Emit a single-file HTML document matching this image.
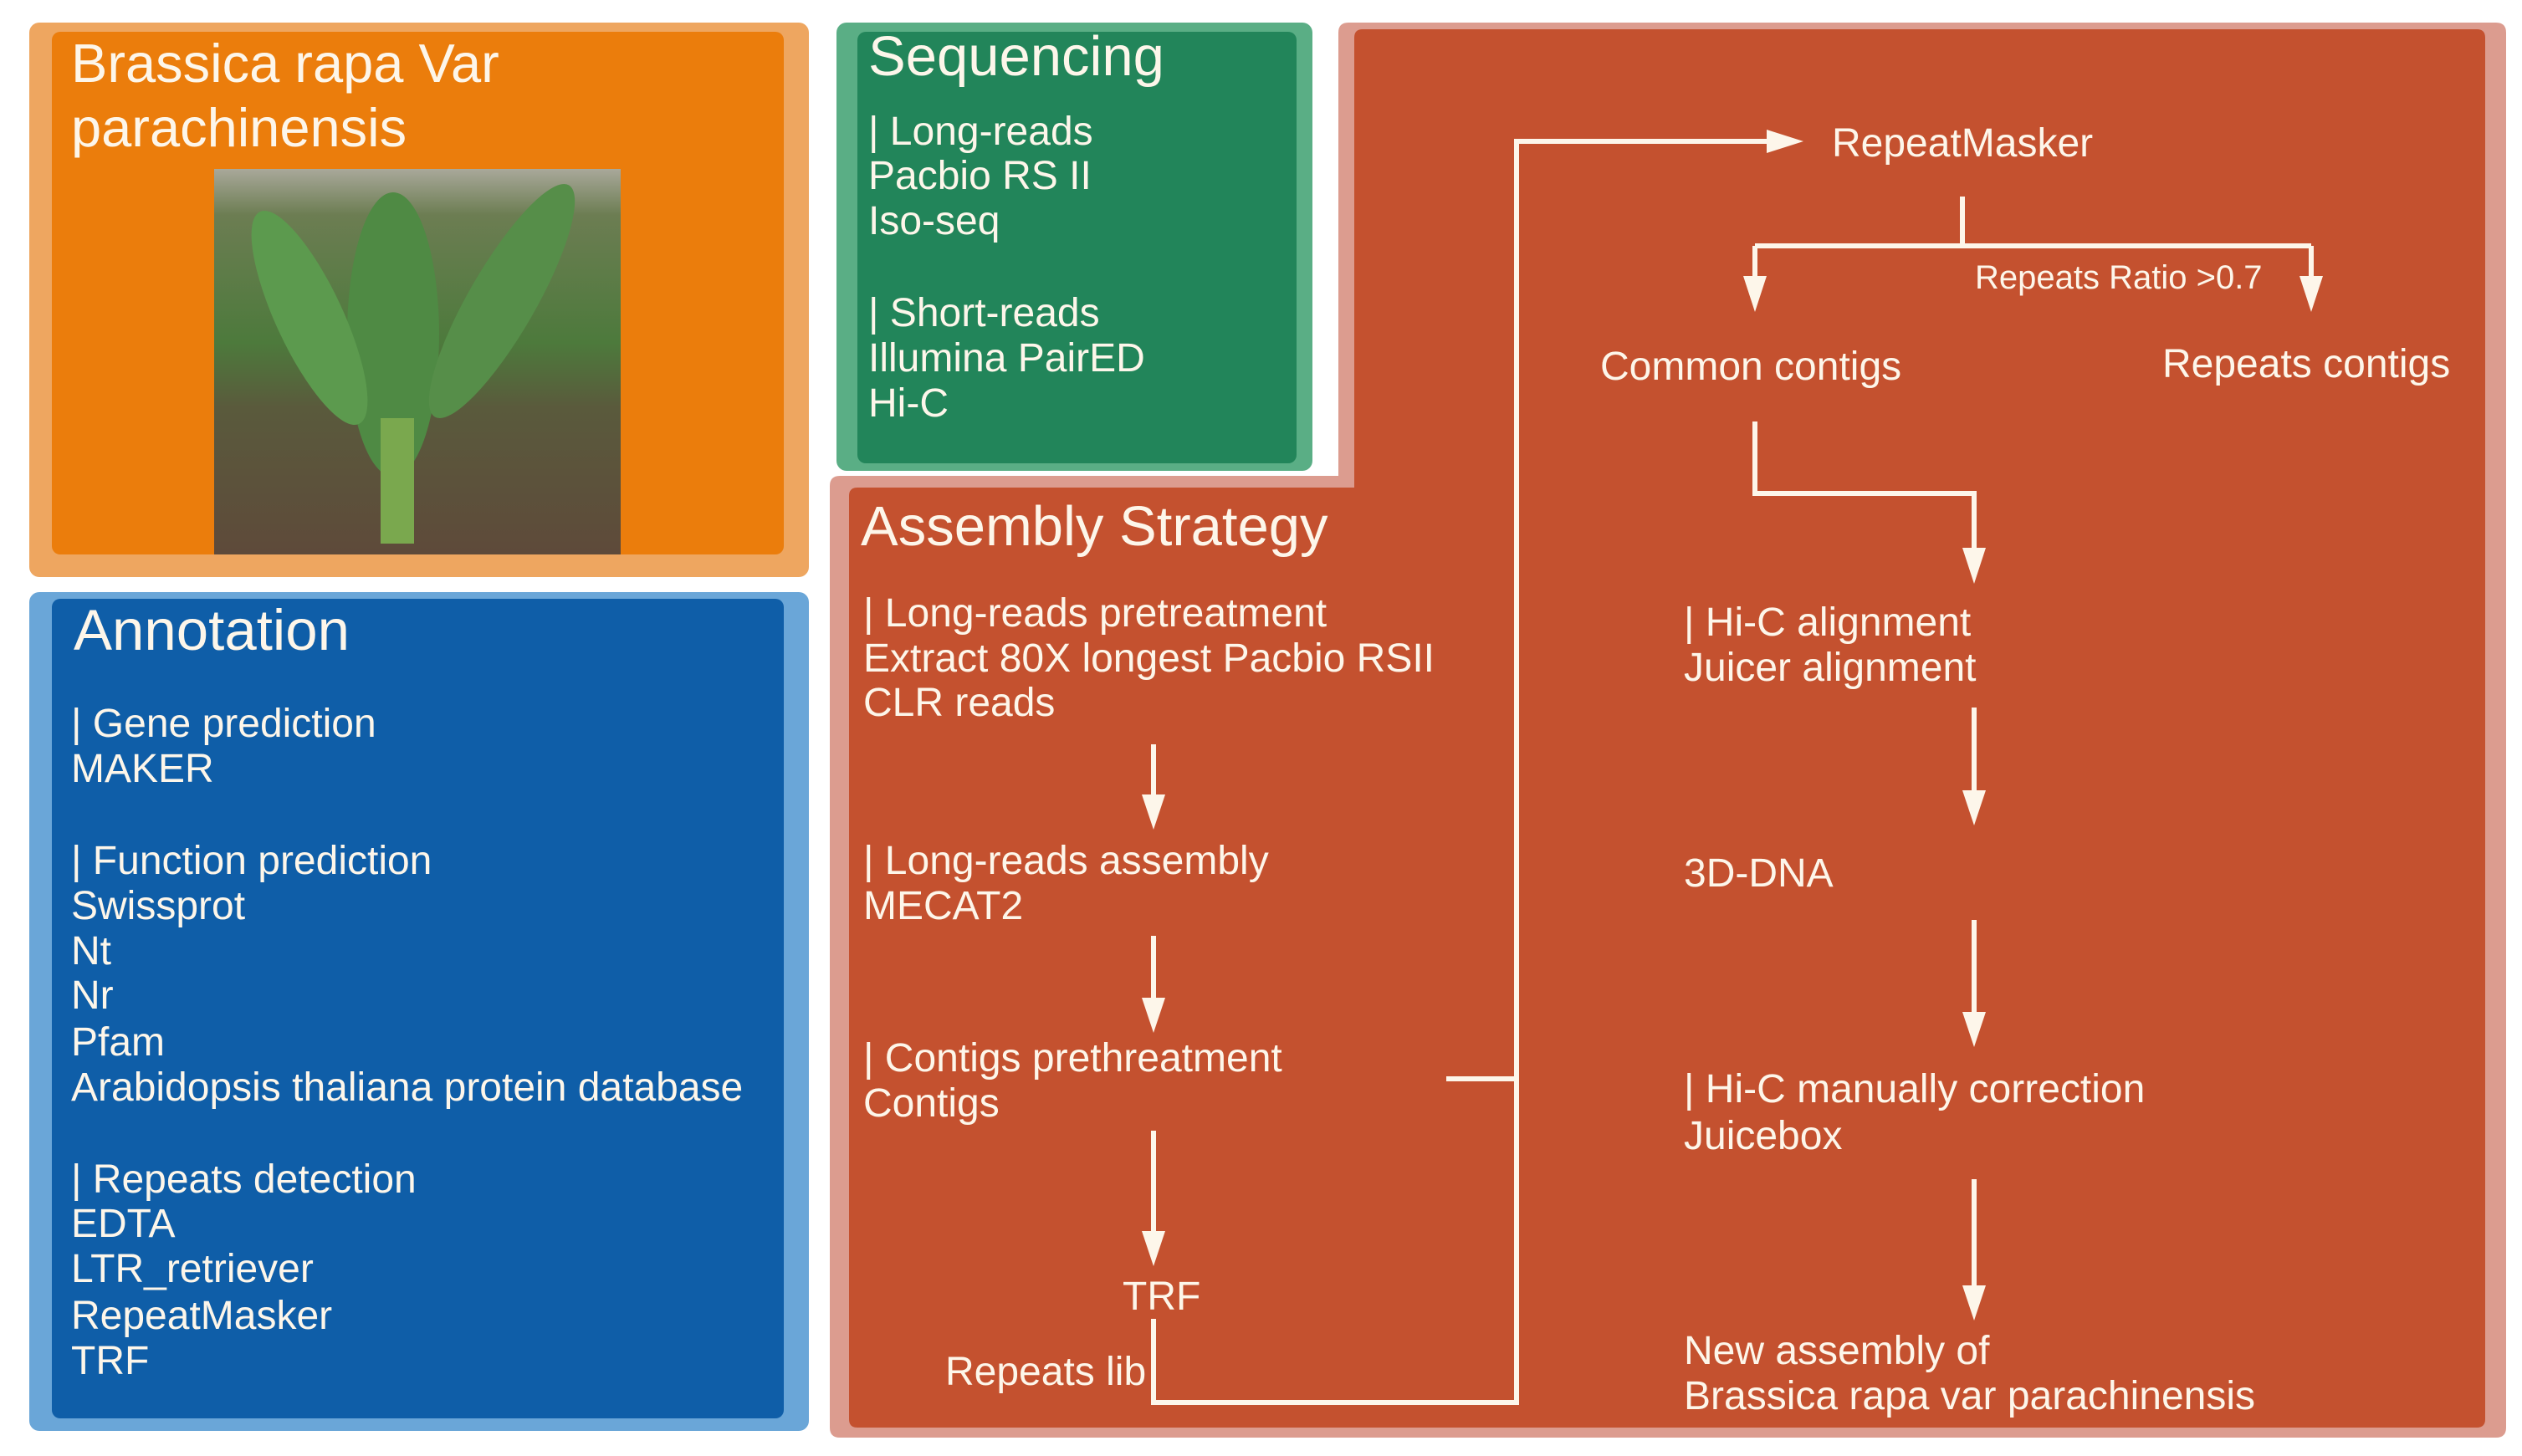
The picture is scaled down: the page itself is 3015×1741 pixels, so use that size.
<!DOCTYPE html>
<html><head><meta charset="utf-8"><style>
html,body{margin:0;padding:0;background:#fff;}
svg{display:block}
text{font-family:"Liberation Sans",sans-serif;fill:#fdf6ea;}
</style></head><body>
<svg width="3015" height="1741" viewBox="0 0 3015 1741" xmlns="http://www.w3.org/2000/svg">
<defs>
<linearGradient id="ph" x1="0" y1="0" x2="0" y2="1">
<stop offset="0" stop-color="#a9a89a"/><stop offset="0.12" stop-color="#6c7d52"/>
<stop offset="0.45" stop-color="#4d7a3c"/><stop offset="0.62" stop-color="#5a5a3c"/>
<stop offset="1" stop-color="#5e4a3a"/></linearGradient>
</defs>
<!-- orange -->
<rect x="35" y="27" width="932" height="663" rx="12" fill="#eea660"/>
<rect x="62" y="38" width="875" height="625" rx="10" fill="#eb7d0c"/>
<rect x="256" y="202" width="486" height="461" fill="url(#ph)"/>
<ellipse cx="470" cy="400" rx="55" ry="170" fill="#4f8a44"/>
<ellipse cx="370" cy="380" rx="40" ry="140" fill="#5c9a4e" transform="rotate(-25 370 380)"/>
<ellipse cx="600" cy="360" rx="40" ry="160" fill="#568e49" transform="rotate(30 600 360)"/>
<rect x="455" y="500" width="40" height="150" fill="#7aa84e"/>
<text x="85" y="98" font-size="65">Brassica rapa Var</text>
<text x="85" y="175" font-size="65">parachinensis</text>
<!-- green -->
<rect x="1000" y="27" width="569" height="536" rx="12" fill="#5aae85"/>
<rect x="1025" y="38" width="525" height="516" rx="10" fill="#22855a"/>
<text x="1038" y="90" font-size="67">Sequencing</text>
<g font-size="48">
<text x="1038" y="173">| Long-reads</text>
<text x="1038" y="226">Pacbio RS II</text>
<text x="1038" y="280">Iso-seq</text>
<text x="1038" y="390">| Short-reads</text>
<text x="1038" y="444">Illumina PairED</text>
<text x="1038" y="498">Hi-C</text>
</g>
<!-- blue -->
<rect x="35" y="708" width="932" height="1003" rx="12" fill="#6aa6d8"/>
<rect x="62" y="716" width="875" height="980" rx="10" fill="#0f5ea8"/>
<text x="88" y="777" font-size="69">Annotation</text>
<g font-size="48">
<text x="85" y="881">| Gene prediction</text>
<text x="85" y="935">MAKER</text>
<text x="85" y="1045">| Function prediction</text>
<text x="85" y="1099">Swissprot</text>
<text x="85" y="1153">Nt</text>
<text x="85" y="1206">Nr</text>
<text x="85" y="1262">Pfam</text>
<text x="85" y="1316">Arabidopsis thaliana protein database</text>
<text x="85" y="1426">| Repeats detection</text>
<text x="85" y="1479">EDTA</text>
<text x="85" y="1533">LTR_retriever</text>
<text x="85" y="1589">RepeatMasker</text>
<text x="85" y="1643">TRF</text>
</g>
<!-- red L -->
<path d="M1612,27 H2984 Q2996,27 2996,39 V1707 Q2996,1719 2984,1719 H1004 Q992,1719 992,1707 V581 Q992,569 1004,569 H1600 V39 Q1600,27 1612,27Z" fill="#dc9c8f"/>
<path d="M1629,35 H2961 Q2971,35 2971,45 V1697 Q2971,1707 2961,1707 H1025 Q1015,1707 1015,1697 V593 Q1015,583 1025,583 H1619 V45 Q1619,35 1629,35Z" fill="#c4512f"/>
<text x="1029" y="652" font-size="67">Assembly Strategy</text>
<g font-size="48">
<text x="1032" y="749">| Long-reads pretreatment</text>
<text x="1032" y="803">Extract 80X longest Pacbio RSII</text>
<text x="1032" y="856">CLR reads</text>
<text x="1032" y="1045">| Long-reads assembly</text>
<text x="1032" y="1099">MECAT2</text>
<text x="1032" y="1281">| Contigs prethreatment</text>
<text x="1032" y="1335">Contigs</text>
<text x="1342" y="1566">TRF</text>
<text x="1130" y="1656">Repeats lib</text>
<text x="2190" y="187">RepeatMasker</text>
<text x="1913" y="454">Common contigs</text>
<text x="2585" y="451">Repeats contigs</text>
<text x="2013" y="760">| Hi-C alignment</text>
<text x="2013" y="814">Juicer alignment</text>
<text x="2013" y="1060">3D-DNA</text>
<text x="2013" y="1318">| Hi-C manually correction</text>
<text x="2013" y="1374">Juicebox</text>
<text x="2013" y="1631">New assembly of</text>
<text x="2013" y="1685">Brassica rapa var parachinensis</text>
</g>
<text x="2361" y="345" font-size="40">Repeats Ratio &gt;0.7</text>
<!-- connectors -->
<g stroke="#fdf6ea" stroke-width="6" fill="none">
<path d="M1379,890 V955"/>
<path d="M1379,1119 V1198"/>
<path d="M1379,1352 V1477"/>
<path d="M1379,1577 V1677 H1813 V169 H2120"/>
<path d="M1729,1290 H1813"/>
<path d="M2346,235 V294 M2098,294 H2763 M2098,294 V335 M2763,294 V335"/>
<path d="M2098,504 V590 H2360 V660"/>
<path d="M2360,846 V950"/>
<path d="M2360,1100 V1215"/>
<path d="M2360,1410 V1542"/>
</g>
<g fill="#fdf6ea">
<polygon points="1365,950 1393,950 1379,992"/>
<polygon points="1365,1193 1393,1193 1379,1235"/>
<polygon points="1365,1472 1393,1472 1379,1514"/>
<polygon points="2112,155 2112,183 2156,169"/>
<polygon points="2084,330 2112,330 2098,373"/>
<polygon points="2749,330 2777,330 2763,373"/>
<polygon points="2346,655 2374,655 2360,698"/>
<polygon points="2346,945 2374,945 2360,987"/>
<polygon points="2346,1210 2374,1210 2360,1252"/>
<polygon points="2346,1537 2374,1537 2360,1579"/>
</g>
</svg>
</body></html>
